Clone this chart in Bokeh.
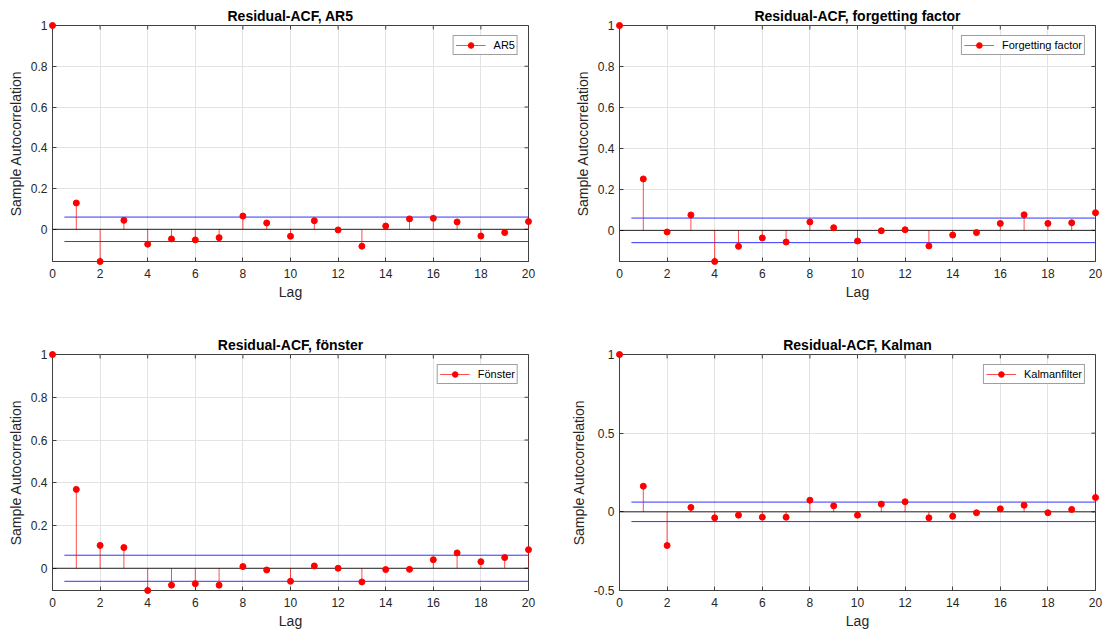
import math
from bokeh.plotting import figure
from bokeh.layouts import column, row
from bokeh.models import (Range1d, FixedTicker, NumeralTickFormatter, Legend,
                          LegendItem, Span)
from bokeh.embed import file_html
from bokeh.resources import INLINE

# ---------------- data ----------------
LAGS = list(range(21))

ACF_AR5 = [1.0, 0.129, -0.158, 0.044, -0.073, -0.047, -0.052, -0.041, 0.065, 0.031,
           -0.034, 0.042, -0.003, -0.083, 0.016, 0.051, 0.054, 0.036, -0.033, -0.016, 0.038]
ACF_FORGET = [1.0, 0.251, -0.008, 0.075, -0.152, -0.078, -0.037, -0.057, 0.041, 0.013,
              -0.052, -0.002, 0.003, -0.076, -0.023, -0.011, 0.034, 0.076, 0.034, 0.037, 0.086]
ACF_FONSTER = [1.0, 0.369, 0.107, 0.097, -0.104, -0.079, -0.072, -0.079, 0.008, -0.008,
               -0.061, 0.011, 0.0, -0.064, -0.006, -0.005, 0.040, 0.072, 0.031, 0.050, 0.087]
ACF_KALMAN = [1.0, 0.163, -0.214, 0.028, -0.038, -0.021, -0.034, -0.034, 0.074, 0.038,
              -0.021, 0.049, 0.064, -0.038, -0.028, -0.006, 0.019, 0.042, -0.006, 0.015, 0.091]

BOUND_AR5 = 0.060
BOUND_FORGET = 0.060
BOUND_FONSTER = 0.061
BOUND_KALMAN = 0.062
BOUND_START_LAG = 0.5

TITLES = ["Residual-ACF, AR5", "Residual-ACF, forgetting factor",
          "Residual-ACF, fönster", "Residual-ACF, Kalman"]
LEGENDS = ["AR5", "Forgetting factor", "Fönster", "Kalmanfilter"]
X_TICKS = list(range(0, 21, 2))
Y_TICKS_STD = [0, 0.2, 0.4, 0.6, 0.8, 1]
Y_TICKS_KALMAN = [-0.5, 0, 0.5, 1]
KALMAN_YMIN = -0.5
Y_MAX = 1
X_MAX = 20

FONT = "Liberation Sans"
TXT = "#262626"
EDGE = "#404040"


def style_axis(ax):
    ax.major_tick_in = 4
    ax.major_tick_out = 0
    ax.minor_tick_line_color = None
    ax.axis_line_color = EDGE
    ax.major_tick_line_color = EDGE
    ax.major_label_text_font = FONT
    ax.major_label_text_font_size = "12px"
    ax.major_label_text_color = TXT
    ax.axis_label_text_font = FONT
    ax.axis_label_text_font_size = "14px"
    ax.axis_label_text_font_style = "normal"
    ax.axis_label_text_color = TXT


def make(title, vals, bound, leg, ymin, yticks, borders):
    left, right, top, bottom = borders
    p = figure(frame_width=476, frame_height=236,
               min_border_left=left, min_border_right=right,
               min_border_top=top, min_border_bottom=bottom,
               x_range=Range1d(0, X_MAX), y_range=Range1d(ymin, Y_MAX),
               output_backend="svg", toolbar_location=None)
    p.background_fill_color = "white"
    p.border_fill_color = "white"
    p.outline_line_color = EDGE
    p.outline_line_alpha = 1

    p.title.text = title
    p.title.align = "center"
    p.title.text_font = FONT
    p.title.text_font_size = "14px"
    p.title.text_font_style = "bold"
    p.title.text_color = "black"
    p.title.standoff = 4

    p.xaxis.ticker = FixedTicker(ticks=X_TICKS)
    p.yaxis.ticker = FixedTicker(ticks=yticks)
    p.yaxis.formatter = NumeralTickFormatter(format="0.[0]")
    style_axis(p.xaxis[0])
    style_axis(p.yaxis[0])
    p.xaxis.axis_label = "Lag"
    p.yaxis.axis_label = "Sample Autocorrelation"
    p.xaxis.major_label_standoff = 7
    p.xaxis.axis_label_standoff = 3
    p.yaxis.major_label_standoff = 5
    p.yaxis.axis_label_standoff = 4

    p.xgrid.ticker = FixedTicker(ticks=X_TICKS)
    p.ygrid.ticker = FixedTicker(ticks=yticks)
    p.grid.grid_line_color = "#e3e3e3"
    p.grid.grid_line_width = 1

    # inward tick marks on top and right edges (half of each dash is clipped)
    p.scatter(x=X_TICKS, y=[Y_MAX] * len(X_TICKS), marker="dash", size=8,
              angle=math.pi / 2, line_color=EDGE, line_width=1)
    p.scatter(x=[X_MAX] * len(yticks), y=yticks, marker="dash", size=8,
              line_color=EDGE, line_width=1)

    # confidence bounds
    p.segment(x0=[BOUND_START_LAG, BOUND_START_LAG], y0=[bound, -bound],
              x1=[LAGS[-1], LAGS[-1]], y1=[bound, -bound],
              line_color="#0000ff", line_width=1, line_alpha=0.8)
    # zero line
    p.add_layout(Span(location=0, dimension="width", line_color="black",
                      line_width=1, line_alpha=0.85))
    # stems
    stems = p.segment(x0=LAGS, y0=[0] * len(LAGS), x1=LAGS, y1=vals,
                      line_color="red", line_width=1, line_alpha=0.7)
    dots = p.scatter(x=LAGS, y=vals, size=6, marker="circle",
                     fill_color="red", line_color="red", level="overlay")

    legend = Legend(items=[LegendItem(label=leg, renderers=[stems, dots])],
                    location="top_right")
    legend.label_text_font = FONT
    legend.label_text_font_size = "11px"
    legend.label_text_color = "black"
    legend.border_line_color = EDGE
    legend.border_line_width = 1
    legend.background_fill_alpha = 1
    legend.padding = 2
    legend.spacing = 0
    legend.margin = 10
    legend.glyph_width = 30
    legend.glyph_height = 14
    legend.label_height = 14
    legend.label_standoff = 8
    p.add_layout(legend)
    return p


p1 = make(TITLES[0], ACF_AR5, BOUND_AR5, LEGENDS[0], min(ACF_AR5), Y_TICKS_STD,
          (52, 26, 25, 55))
p2 = make(TITLES[1], ACF_FORGET, BOUND_FORGET, LEGENDS[1], min(ACF_FORGET), Y_TICKS_STD,
          (65, 12, 25, 55))
p3 = make(TITLES[2], ACF_FONSTER, BOUND_FONSTER, LEGENDS[2], min(ACF_FONSTER), Y_TICKS_STD,
          (52, 26, 38, 42))
p4 = make(TITLES[3], ACF_KALMAN, BOUND_KALMAN, LEGENDS[3], KALMAN_YMIN, Y_TICKS_KALMAN,
          (65, 12, 38, 42))

layout = column(row(p1, p2, spacing=0), row(p3, p4, spacing=0), spacing=0)

html = file_html(layout, INLINE)
with open("out.html", "w") as f:
    f.write(html)
